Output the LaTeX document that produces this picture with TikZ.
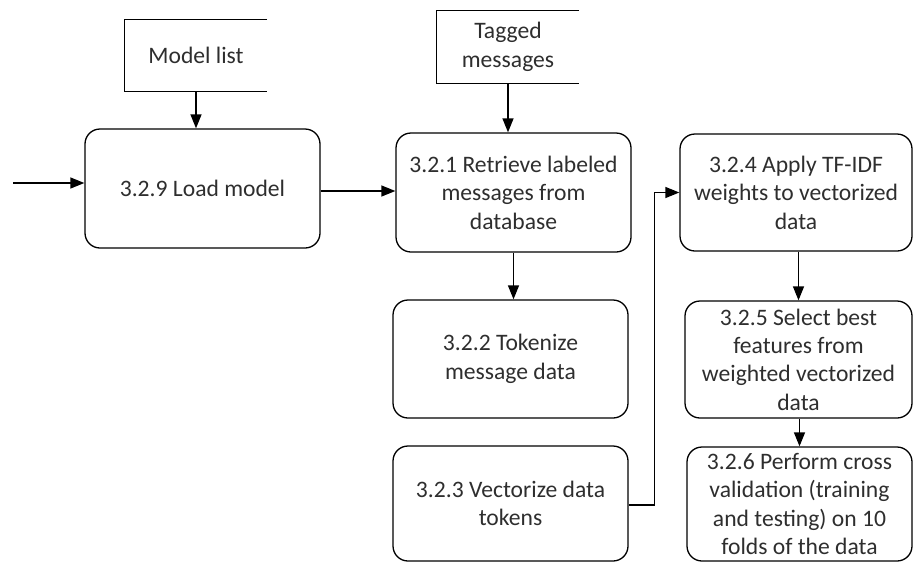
\documentclass[tikz,border=0pt]{standalone}
\usepackage{fontspec}
\setmainfont{Carlito}
\usetikzlibrary{arrows.meta}
\begin{document}
\begin{tikzpicture}[x=1pt,y=-1pt,
  txt/.style={font=\fontsize{23.6}{28.4}\selectfont, text=black!82, align=center, inner sep=0pt},
  proc/.style={txt, draw, line width=1.3pt, rounded corners=15pt},
  store/.style={txt},
  link/.style={line width=1.3pt},
  flow/.style={link, -{Triangle[length=14pt,width=11pt]}}]
\useasboundingbox (0,0) rectangle (913,563);

% data stores (open on the right)
\node[store, minimum width=142pt, minimum height=71pt] (mlist) at (196,55.5) {Model list};
\node[store, minimum width=142pt, minimum height=72pt] (tagged) at (508,47) {Tagged\\messages};
\foreach \s in {mlist,tagged}
  \draw[link] (\s.north east) -- (\s.north west) -- (\s.south west) -- (\s.south east);

% processes
\node[proc, minimum width=235pt, minimum height=119pt] (load) at (202.5,188.5) {3.2.9 Load model};
\node[proc, minimum width=235pt, minimum height=119pt] (p321) at (513.5,192.5) {3.2.1 Retrieve labeled\\messages from\\database};
\node[proc, minimum width=235pt, minimum height=118pt] (p322) at (510.5,359) {3.2.2 Tokenize\\message data};
\node[proc, minimum width=235pt, minimum height=115pt] (p323) at (510.5,503.5) {3.2.3 Vectorize data\\tokens};
\node[proc, minimum width=232pt, minimum height=117pt] (p324) at (796,192.5) {3.2.4 Apply TF-IDF\\weights to vectorized\\data};
\node[proc, minimum width=227pt, minimum height=117pt] (p325) at (798.5,359.5) {3.2.5 Select best\\features from\\weighted vectorized\\data};
\node[proc, minimum width=225pt, minimum height=114pt] (p326) at (799.5,504) {3.2.6 Perform cross\\validation (training\\and testing) on 10\\folds of the data};

% flows
\coordinate (in) at (13,183);
\draw[flow] (in) -- (in -| load.west);
\draw[flow] (mlist.south) -- (mlist.south |- load.north);
\draw[flow] (tagged.south) -- (tagged.south |- p321.north);
\coordinate (a) at ([yshift=-2.5pt]load.east);
\draw[flow] (a) -- (a -| p321.west);
\draw[flow] (p321.south) -- (p321.south |- p322.north);
\coordinate (b) at ([yshift=-1.5pt]p323.east);
\draw[flow] (b) -- ++(26,0) |- (p324.west);
\draw[flow] (p325.north |- p324.south) -- (p325.north);
\draw[flow] (p326.north |- p325.south) -- (p326.north);
\end{tikzpicture}
\end{document}
